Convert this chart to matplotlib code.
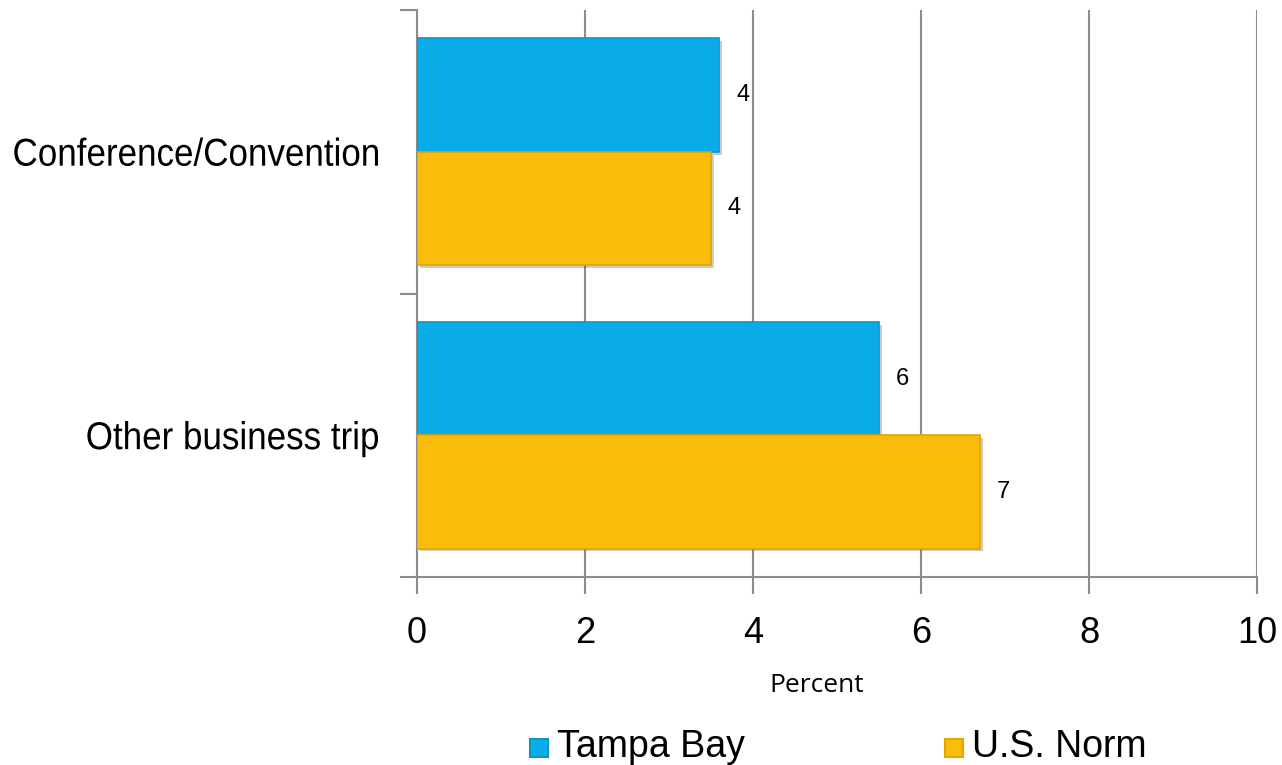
import matplotlib
matplotlib.use("Agg")
import matplotlib.pyplot as plt
from matplotlib.patches import Rectangle, PathPatch
from matplotlib.textpath import TextPath
from matplotlib.font_manager import FontProperties
from matplotlib.transforms import Affine2D, IdentityTransform
import matplotlib.patheffects as pe

categories = ["Conference/Convention", "Other business trip"]
series_names = ["Tampa Bay", "U.S. Norm"]
tampa_bay = [3.6, 5.5]
us_norm = [3.5, 6.7]
x_ticks = [0, 2, 4, 6, 8, 10]

blue = "#0AACE8"
gold = "#F9BC0A"
grid_gray = "#8C8C8C"

plt.rcParams["font.family"] = ["Liberation Sans", "DejaVu Sans"]

W, H = 1282, 765
fig = plt.figure(figsize=(W / 100, H / 100), dpi=100)
ax = fig.add_axes([417 / W, 1 - 577 / H, 840 / W, 567 / H])

n = len(categories)
centers = [n - 0.5 - i for i in range(n)]
h = 0.4
shadow = [pe.SimplePatchShadow(offset=(2, -2), alpha=0.25), pe.Normal()]

for c, v1, v2 in zip(centers, tampa_bay, us_norm):
    b1 = ax.barh(c + h / 2, v1, height=h, color=blue, edgecolor="#0A96CC",
                 linewidth=1.2, zorder=3)
    b2 = ax.barh(c - h / 2, v2, height=h, color=gold, edgecolor="#DDA506",
                 linewidth=1.2, zorder=3)
    for b in list(b1) + list(b2):
        b.set_path_effects(shadow)
    ax.text(v1 + 0.2, c + h / 2, f"{v1:.0f}", va="center", ha="left", fontsize=17, zorder=4)
    ax.text(v2 + 0.2, c - h / 2, f"{v2:.0f}", va="center", ha="left", fontsize=17, zorder=4)

ax.set_xlim(0, 10)
ax.set_ylim(0, n)
ax.set_xticks(x_ticks)
ax.set_xticklabels([str(t) for t in x_ticks], fontsize=26)
ax.set_yticks(range(n + 1))
ax.set_yticklabels([])
ax.tick_params(axis="both", color=grid_gray, length=12, width=1.5)
ax.tick_params(axis="x", pad=16)

ax.xaxis.grid(True, color=grid_gray, linewidth=1.5, zorder=0)
ax.set_axisbelow(True)
for s in ["top", "right"]:
    ax.spines[s].set_visible(False)
for s in ["left", "bottom"]:
    ax.spines[s].set_color(grid_gray)
    ax.spines[s].set_linewidth(1.5)

# category labels, set in a slightly condensed face
fp = FontProperties(family="Liberation Sans")
size_px = 28 * 100 / 72
for c, label in zip(centers, categories):
    tp = TextPath((0, 0), label, size=size_px, prop=fp)
    bb = tp.get_extents()
    sx = 0.9
    y_disp = ax.transData.transform((0, c))[1]
    right = 378
    tr = Affine2D().translate(-bb.x1, -size_px * 0.716 / 2).scale(sx, 1).translate(right, y_disp)
    fig.patches.append(PathPatch(tr.transform_path(tp), transform=IdentityTransform(),
                                 facecolor="black", edgecolor="none"))

fig.text(817 / W, 1 - 685 / H, "Percent", ha="center", va="center", fontsize=19,
         family=["Open Sans", "DejaVu Sans"])

# legend entries
for (x0, col, edge, label) in [(530, blue, "#0A96CC", series_names[0]),
                               (945, gold, "#DDA506", series_names[1])]:
    fig.patches.append(Rectangle((x0 / W, 1 - 757 / H), 18 / W, 18 / H,
                                 transform=fig.transFigure, facecolor=col,
                                 edgecolor=edge, linewidth=1.5))
    fig.text((x0 + 27) / W, 1 - 747 / H, label, ha="left", va="center", fontsize=27)

fig.savefig("out.png", dpi=100)
